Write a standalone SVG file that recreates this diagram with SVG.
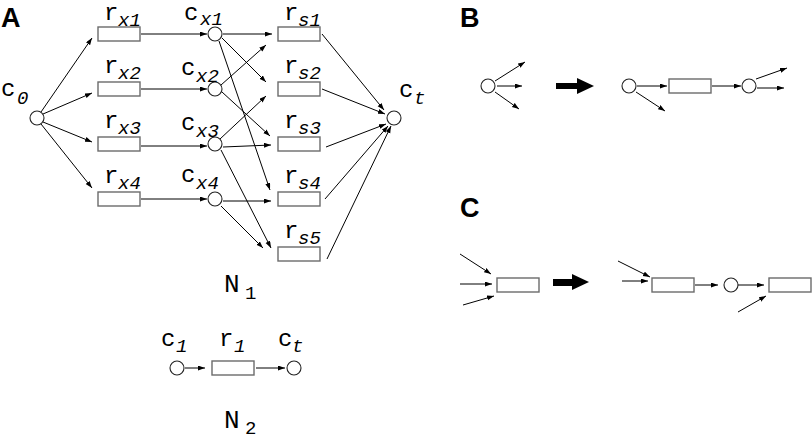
<svg xmlns="http://www.w3.org/2000/svg" width="812" height="440" viewBox="0 0 812 440">
<style>
.bx{fill:#fff;stroke:#6b6b6b;stroke-width:1.4}
.cr{fill:#fff;stroke:#222;stroke-width:1.1}
.ln{stroke:#000;stroke-width:1;fill:none;marker-end:url(#ah)}
.m{font-family:"Liberation Mono","DejaVu Sans Mono",monospace;font-size:24px;fill:#000}
.s{font-family:"Liberation Mono","DejaVu Sans Mono",monospace;font-size:19px;font-style:italic;fill:#000}
.su{font-family:"Liberation Mono","DejaVu Sans Mono",monospace;font-size:19px;fill:#000}
.P{font-family:"Liberation Sans",Arial,sans-serif;font-weight:bold;font-size:27px;fill:#000}
.big{fill:#000}
</style>
<defs>
<marker id="ah" markerUnits="userSpaceOnUse" markerWidth="8" markerHeight="6" refX="7" refY="2.5" orient="auto"><path d="M0,0 L7,2.5 L0,5 z" fill="#000"/></marker>
</defs>
<rect width="812" height="440" fill="#fff"/>
<text class="P" x="1" y="27">A</text>
<text class="P" x="460" y="27">B</text>
<text class="P" x="460" y="217">C</text>

<g id="connectors">
<line class="ln" x1="41" y1="112" x2="92" y2="38"/>
<line class="ln" x1="43" y1="114" x2="92" y2="93"/>
<line class="ln" x1="43" y1="122" x2="92" y2="142"/>
<line class="ln" x1="41" y1="124" x2="92" y2="188"/>
<line class="ln" x1="141" y1="34" x2="207" y2="34"/>
<line class="ln" x1="141" y1="89" x2="207" y2="89"/>
<line class="ln" x1="141" y1="146" x2="207" y2="146"/>
<line class="ln" x1="141" y1="199" x2="207" y2="199"/>
<line class="ln" x1="223" y1="34" x2="272" y2="34"/>
<line class="ln" x1="222" y1="38" x2="266" y2="82"/>
<line class="ln" x1="219" y1="41" x2="270" y2="190"/>
<line class="ln" x1="221" y1="85" x2="266" y2="45"/>
<line class="ln" x1="222" y1="92" x2="270" y2="136"/>
<line class="ln" x1="220" y1="139" x2="266" y2="96"/>
<line class="ln" x1="223" y1="147" x2="271" y2="145"/>
<line class="ln" x1="221" y1="150" x2="271" y2="248"/>
<line class="ln" x1="223" y1="201" x2="271" y2="201"/>
<line class="ln" x1="221" y1="206" x2="263" y2="248"/>
<line class="ln" x1="322" y1="34" x2="384" y2="110"/>
<line class="ln" x1="322" y1="89" x2="385" y2="114"/>
<line class="ln" x1="326" y1="147" x2="386" y2="124"/>
<line class="ln" x1="325" y1="199" x2="388" y2="126"/>
<line class="ln" x1="327" y1="259" x2="391" y2="126"/>
<line class="ln" x1="185" y1="368" x2="205" y2="368"/>
<line class="ln" x1="256" y1="368" x2="285" y2="368"/>
<line class="ln" x1="495" y1="81" x2="525" y2="62"/>
<line class="ln" x1="497" y1="86" x2="522" y2="86"/>
<line class="ln" x1="495" y1="92" x2="519" y2="109"/>
<line class="ln" x1="637" y1="86" x2="667" y2="86"/>
<line class="ln" x1="636" y1="92" x2="665" y2="111"/>
<line class="ln" x1="712" y1="86" x2="741" y2="86"/>
<line class="ln" x1="756" y1="79" x2="787" y2="68"/>
<line class="ln" x1="757" y1="88" x2="784" y2="88"/>
<line class="ln" x1="460" y1="254" x2="491" y2="274"/>
<line class="ln" x1="460" y1="284" x2="492" y2="284"/>
<line class="ln" x1="463" y1="305" x2="494" y2="296"/>
<line class="ln" x1="618" y1="261" x2="650" y2="277"/>
<line class="ln" x1="622" y1="281" x2="648" y2="281"/>
<line class="ln" x1="695" y1="285" x2="718" y2="285"/>
<line class="ln" x1="738" y1="285" x2="764" y2="285"/>
<line class="ln" x1="738" y1="312" x2="766" y2="296"/>
</g>

<g id="c0"><circle class="cr" cx="37" cy="118" r="7"/><text class="m" x="1" y="96">c</text><text class="s" x="17" y="104">0</text></g>

<g id="rx1"><rect class="bx" x="98" y="27" width="42" height="14"/><text class="m" x="104" y="20">r</text><text class="s" x="118" y="26">x1</text></g>
<g id="rx2"><rect class="bx" x="98" y="82" width="42" height="14"/><text class="m" x="104" y="73">r</text><text class="s" x="118" y="79">x2</text></g>
<g id="rx3"><rect class="bx" x="98" y="137" width="42" height="14"/><text class="m" x="104" y="128">r</text><text class="s" x="118" y="134">x3</text></g>
<g id="rx4"><rect class="bx" x="98" y="192" width="42" height="14"/><text class="m" x="104" y="183">r</text><text class="s" x="118" y="189">x4</text></g>

<g id="cx1"><circle class="cr" cx="215" cy="34" r="7"/><text class="m" x="184" y="20">c</text><text class="s" x="200" y="25">x1</text></g>
<g id="cx2"><circle class="cr" cx="215" cy="89" r="7"/><text class="m" x="181" y="75">c</text><text class="s" x="196" y="82">x2</text></g>
<g id="cx3"><circle class="cr" cx="215" cy="144" r="7"/><text class="m" x="181" y="130">c</text><text class="s" x="196" y="137">x3</text></g>
<g id="cx4"><circle class="cr" cx="215" cy="199" r="7"/><text class="m" x="181" y="182">c</text><text class="s" x="196" y="189">x4</text></g>

<g id="rs1"><rect class="bx" x="278" y="27" width="42" height="14"/><text class="m" x="284" y="20">r</text><text class="s" x="298" y="26">s1</text></g>
<g id="rs2"><rect class="bx" x="278" y="82" width="42" height="14"/><text class="m" x="284" y="73">r</text><text class="s" x="298" y="79">s2</text></g>
<g id="rs3"><rect class="bx" x="278" y="137" width="42" height="14"/><text class="m" x="284" y="128">r</text><text class="s" x="298" y="134">s3</text></g>
<g id="rs4"><rect class="bx" x="278" y="192" width="42" height="14"/><text class="m" x="284" y="183">r</text><text class="s" x="298" y="189">s4</text></g>
<g id="rs5"><rect class="bx" x="278" y="247" width="42" height="14"/><text class="m" x="284" y="238">r</text><text class="s" x="298" y="244">s5</text></g>

<g id="ct"><circle class="cr" cx="394" cy="118" r="7"/><text class="m" x="399" y="97">c</text><text class="s" x="414" y="104">t</text></g>

<g id="N1label"><text class="m" x="224" y="292" style="font-size:26px">N</text><text class="su" x="245" y="299">1</text></g>

<g id="c1"><circle class="cr" cx="177" cy="368" r="7"/><text class="m" x="161" y="346">c</text><text class="s" x="176" y="352">1</text></g>
<g id="r1"><rect class="bx" x="212" y="361" width="42" height="14"/><text class="m" x="219" y="346">r</text><text class="s" x="234" y="352">1</text></g>
<g id="ct2"><circle class="cr" cx="294" cy="368" r="7"/><text class="m" x="278" y="346">c</text><text class="s" x="292" y="352">t</text></g>
<g id="N2label"><text class="m" x="224" y="428" style="font-size:26px">N</text><text class="su" x="245" y="434">2</text></g>

<g id="B_node1"><circle class="cr" cx="488" cy="86" r="7"/></g>
<g id="B_arrow"><polygon class="big" points="556,83 577,83 577,78 594,86 577,94 577,89 556,89"/></g>
<g id="B_node2"><circle class="cr" cx="629" cy="86" r="7"/></g>
<g id="B_box"><rect class="bx" x="669" y="79" width="42" height="14"/></g>
<g id="B_node3"><circle class="cr" cx="749" cy="86" r="7"/></g>

<g id="C_box1"><rect class="bx" x="497" y="278" width="42" height="14"/></g>
<g id="C_arrow"><polygon class="big" points="553,279 572,279 572,274 589,282 572,290 572,286 553,286"/></g>
<g id="C_box2"><rect class="bx" x="652" y="278" width="42" height="14"/></g>
<g id="C_node"><circle class="cr" cx="731" cy="285" r="7"/></g>
<g id="C_box3"><rect class="bx" x="769" y="278" width="42" height="14"/></g>
</svg>
